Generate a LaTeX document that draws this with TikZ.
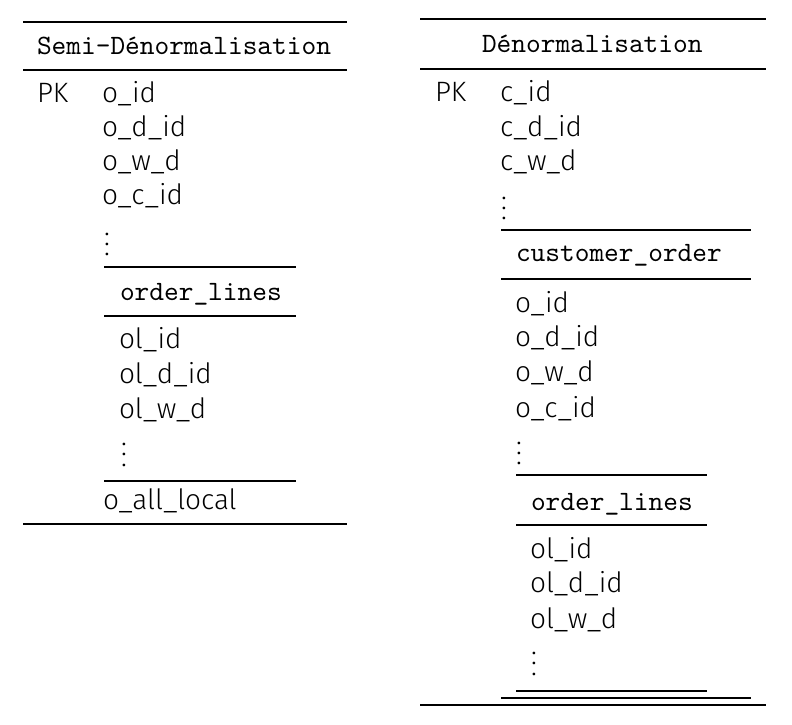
\documentclass[tikz,border=0pt]{standalone}
\usepackage{fontspec}
\setmainfont{Fira Sans Light}
\newcommand\colvdots{\vbox{\baselineskip3.6pt\lineskiplimit0pt\hbox{.}\hbox{.}\hbox{.}}}
\begin{document}
\begin{tikzpicture}[x=0.35714pt,y=-0.35714pt,
  txt/.style={anchor=base west,inner sep=0pt,outer sep=0pt,font=\fontsize{10}{12}\selectfont},
  hdr/.style={anchor=base west,inner sep=0pt,outer sep=0pt,font=\fontsize{10}{12}\selectfont\ttfamily},
  dotsnode/.style={anchor=base west,inner sep=0pt,outer sep=0pt,font=\fontsize{10}{12}\selectfont},
  heavyrule/.style={line width=0.8pt},
  lightrule/.style={line width=0.5pt}]
\useasboundingbox (0,0) rectangle (792,725);
% ---------------- left table ----------------
\draw[heavyrule] (23,21.7) -- (347,21.7);
\node[hdr] (lh) at (37,55) {Semi-D\'enormalisation};
\draw[lightrule] (23,70) -- (347,70);
\node[txt] (lpk) at (37,103) {PK};
\node[txt] (l1) at (102,103) {o\_id};
\node[txt] (l2) at (102,137) {o\_d\_id};
\node[txt] (l3) at (102,171) {o\_w\_d};
\node[txt] (l4) at (102,205) {o\_c\_id};
\node[dotsnode] (lv1) at (104,255.5) {\colvdots};
\draw[heavyrule] (104,267) -- (296,267);
\node[hdr] (lsub) at (120,301) {order\_lines};
\draw[lightrule] (104,316) -- (296,316);
\node[txt] (l5) at (119,349) {ol\_id};
\node[txt] (l6) at (119,384) {ol\_d\_id};
\node[txt] (l7) at (119,418) {ol\_w\_d};
\node[dotsnode] (lv2) at (121,466) {\colvdots};
\draw[heavyrule] (104,481) -- (296,481);
\node[txt] (l8) at (103,509) {o\_all\_local};
\draw[heavyrule] (23,524) -- (347,524);
% ---------------- right table ----------------
\draw[heavyrule] (420,19.3) -- (766,19.3);
\node[hdr] (rh) at (482,53) {D\'enormalisation};
\draw[lightrule] (420,69) -- (766,69);
\node[txt] (rpk) at (435,102) {PK};
\node[txt] (r1) at (500,102) {c\_id};
\node[txt] (r2) at (500,137) {c\_d\_id};
\node[txt] (r3) at (500,171) {c\_w\_d};
\node[dotsnode] (rv1) at (501,219.5) {\colvdots};
\draw[heavyrule] (501,230) -- (751,230);
\node[hdr] (rsub1) at (516,262) {customer\_order};
\draw[lightrule] (501,279) -- (751,279);
\node[txt] (r4) at (515,313) {o\_id};
\node[txt] (r5) at (515,347) {o\_d\_id};
\node[txt] (r6) at (515,382) {o\_w\_d};
\node[txt] (r7) at (515,417) {o\_c\_id};
\node[dotsnode] (rv2) at (516,464.5) {\colvdots};
\draw[heavyrule] (516,475) -- (707,475);
\node[hdr] (rsub2) at (531,510) {order\_lines};
\draw[lightrule] (516,525) -- (707,525);
\node[txt] (r8) at (530,558) {ol\_id};
\node[txt] (r9) at (530,592) {ol\_d\_id};
\node[txt] (r10) at (530,628) {ol\_w\_d};
\node[dotsnode] (rv3) at (531,675) {\colvdots};
\draw[heavyrule] (516,691) -- (707,691);
\draw[heavyrule] (501,698) -- (751,698);
\draw[heavyrule] (420,705) -- (766,705);
\end{tikzpicture}
\end{document}
